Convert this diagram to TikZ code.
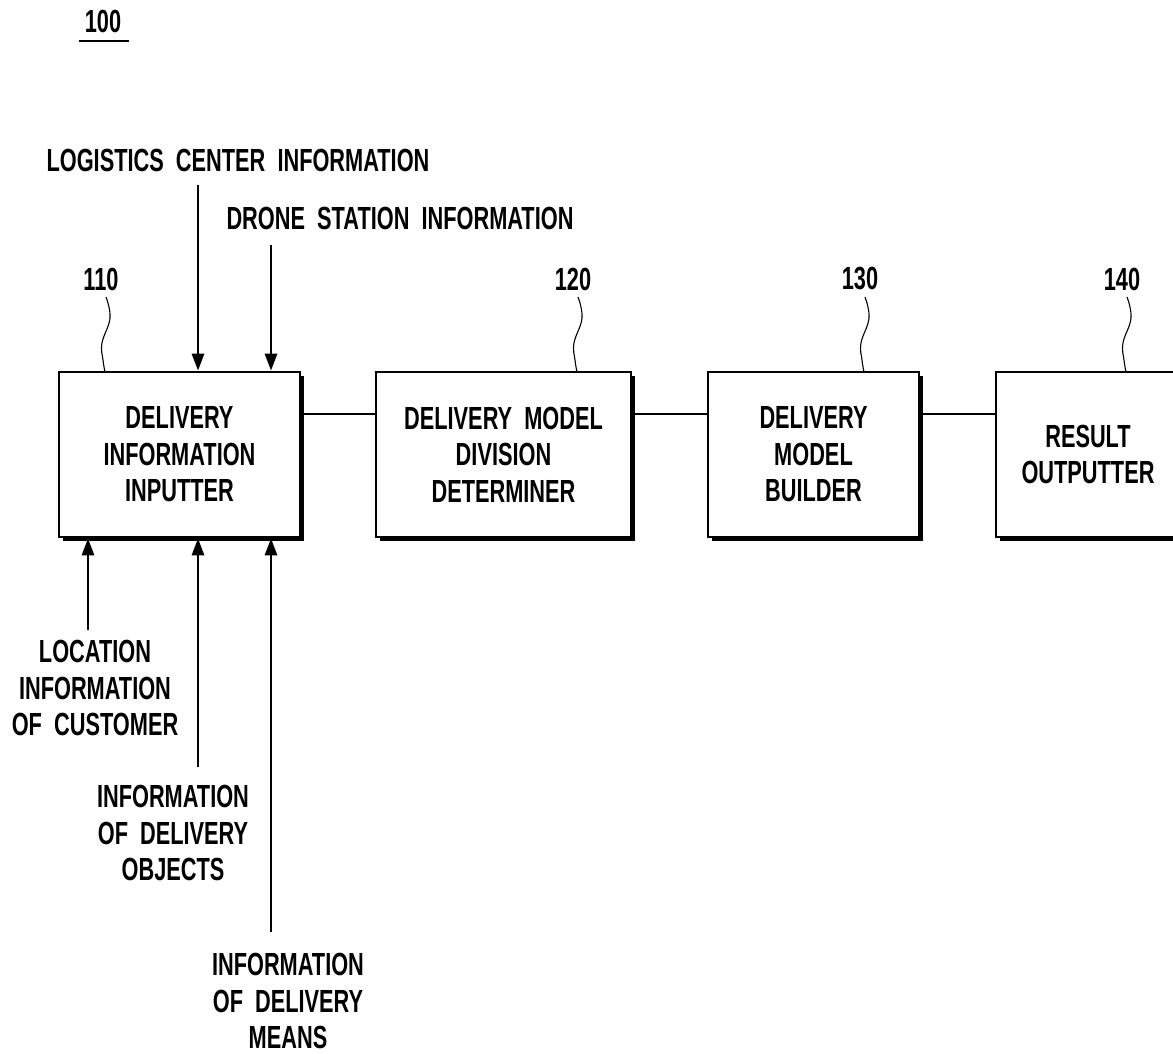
\documentclass[tikz,border=0pt]{standalone}
\usepackage{fontspec}
\setmainfont[FakeStretch=0.68, WordSpace=2]{Liberation Sans}
\usetikzlibrary{arrows.meta, shadows}
\begin{document}
\begin{tikzpicture}[x=1pt, y=-1pt,
  lbl/.style={font=\bfseries\fontsize{32}{36.5}\selectfont, align=center, inner sep=0pt},
  blk/.style={draw, line width=2.6pt, fill=white, lbl,
    drop shadow={shadow xshift=3.5pt, shadow yshift=-3.5pt, fill=black, opacity=1}},
  conn/.style={line width=2.8pt},
  arr/.style={line width=2.8pt, -{Triangle[length=17pt, width=12pt]}},
  sq/.style={line width=1.1pt}]
\useasboundingbox (0,0) rectangle (1173,1054);
\begin{scope}
\clip (0,0) rectangle (1173,1054);
% title
\node[lbl] (t100) at (103,21) {100};
\draw[line width=2.6pt] (79,41) -- (129,41);

% top labels
\node[lbl] (lci) at (238,160) {LOGISTICS CENTER INFORMATION};
\node[lbl] (dsi) at (400,218) {DRONE STATION INFORMATION};

% blocks
\node[blk, minimum width=241pt, minimum height=165pt] (b110) at (179.5,454.5) {DELIVERY\\INFORMATION\\INPUTTER};
\node[blk, minimum width=255pt, minimum height=165pt] (b120) at (503.5,454.5) {DELIVERY MODEL\\DIVISION\\DETERMINER};
\node[blk, minimum width=211pt, minimum height=165pt] (b130) at (813.5,454.5) {DELIVERY\\MODEL\\BUILDER};
\node[blk, minimum width=200pt, minimum height=165pt, text width=180pt] (b140) at (1096,454.5) {};
\node[lbl] (t140) at (1088,454.5) {RESULT\\OUTPUTTER};

% connectors between blocks
\draw[conn] (b110.east |- 0,414) -- (b120.west |- 0,414);
\draw[conn] (b120.east |- 0,414) -- (b130.west |- 0,414);
\draw[conn] (b130.east |- 0,414) -- (b140.west |- 0,414);

% reference numerals
\node[lbl] (n110) at (101,279) {110};
\node[lbl] (n120) at (573,279) {120};
\node[lbl] (n130) at (860,279) {130};
\node[lbl] (n140) at (1122,279) {140};
\foreach \x in {106,578,865,1127}{
  \draw[sq] plot[smooth, tension=0.7] coordinates {(\x,297) (\x+4,318) (\x-4,343) (\x-3,360) (\x-1,372)};
}

% input arrows from above
\coordinate (a1s) at (198,185);
\coordinate (a2s) at (271,245);
\draw[arr] (a1s) -- (a1s |- b110.north);
\draw[arr] (a2s) -- (a2s |- b110.north);

% bottom labels
\node[lbl] (loc) at (95,688) {LOCATION\\INFORMATION\\OF CUSTOMER};
\node[lbl] (obj) at (173,833) {INFORMATION\\OF DELIVERY\\OBJECTS};
\node[lbl] (mea) at (288,1001) {INFORMATION\\OF DELIVERY\\MEANS};

\coordinate (u1s) at (88,630);
\coordinate (u2s) at (198,767);
\coordinate (u3s) at (271,932);
\draw[arr] (u1s) -- (u1s |- b110.south);
\draw[arr] (u2s) -- (u2s |- b110.south);
\draw[arr] (u3s) -- (u3s |- b110.south);
\end{scope}
\end{tikzpicture}
\end{document}
